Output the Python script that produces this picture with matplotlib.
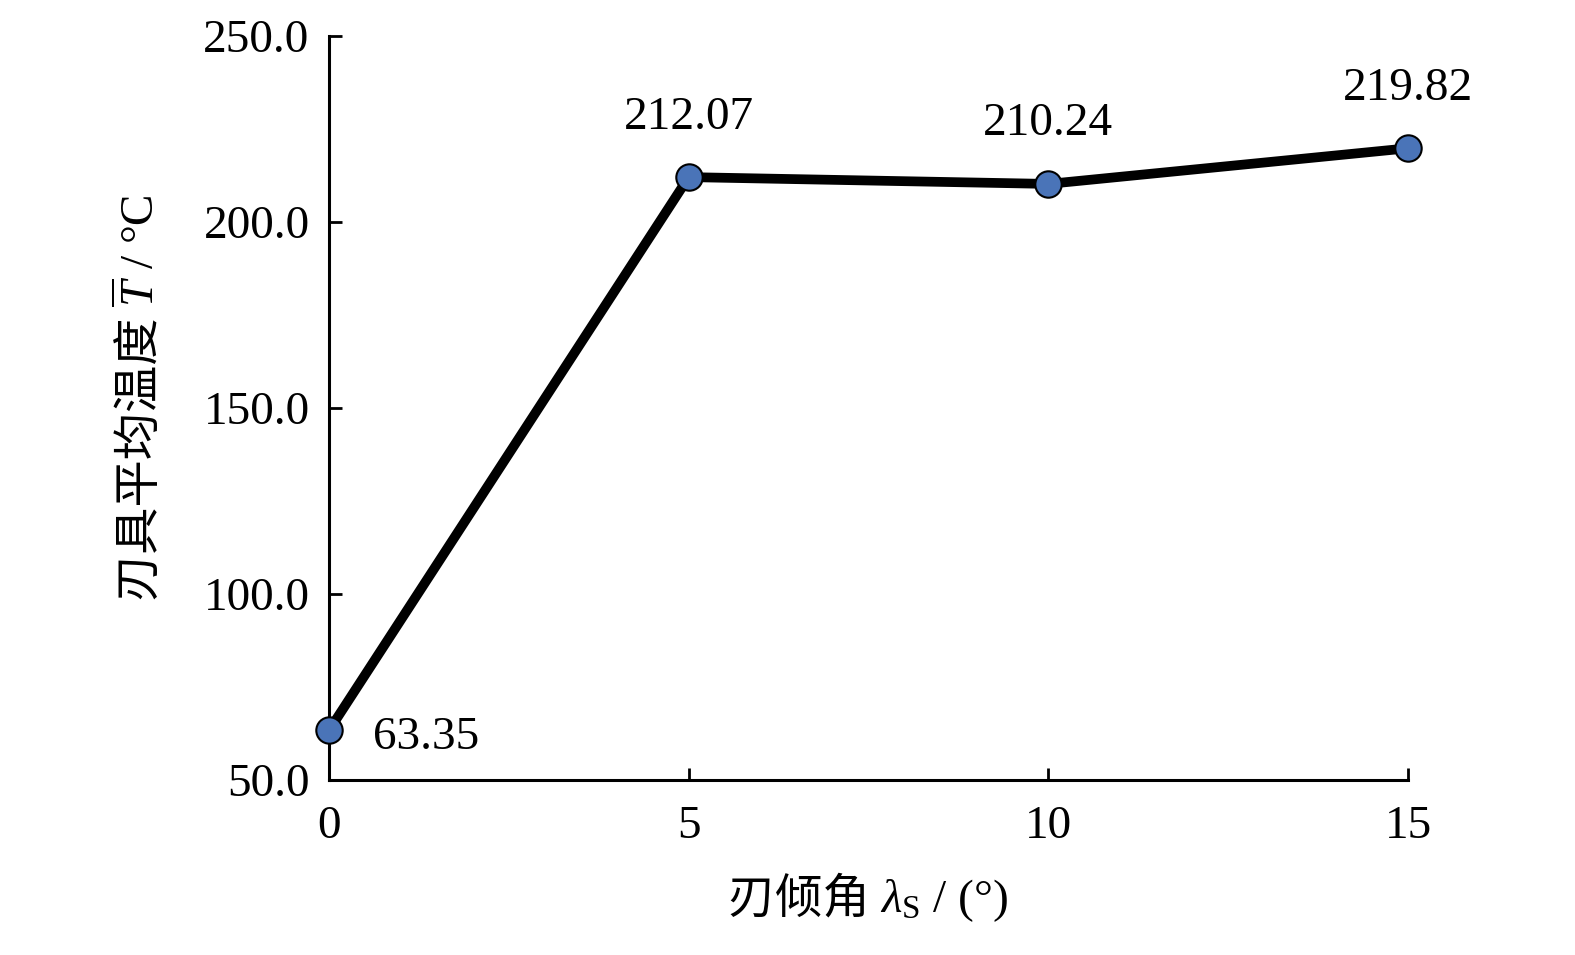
import matplotlib
matplotlib.use('Agg')
import matplotlib.pyplot as plt

# 数据
angle = [0, 5, 10, 15]
temp = [63.35, 212.07, 210.24, 219.82]
x_ticks = [0, 5, 10, 15]
y_ticks = [50, 100, 150, 200, 250]
# 标注偏移 (points)
offsets = [(32, -5), (0, 43), (0, 43), (0, 43)]
aligns = ['left', 'center', 'center', 'center']

xlabel_cn, xlabel_math = '刃倾角 ', r'$\lambda_{\mathrm{S}}$ / (°)'
ylabel_cn, ylabel_math = '刃具平均温度 ', r'$\overline{T}$ / °C'

plt.rcParams['font.family'] = ['Liberation Serif', 'Noto Sans CJK SC']
plt.rcParams['mathtext.fontset'] = 'custom'
plt.rcParams['mathtext.rm'] = 'Liberation Serif'
plt.rcParams['mathtext.it'] = 'Liberation Serif:italic'

fig = plt.figure(figsize=(15.75, 9.55), dpi=100)
ax = fig.add_axes([0.2089, 0.1832, 0.6851, 0.7791])

ax.plot(angle, temp, color='black', lw=7, marker='o', markersize=19,
        markerfacecolor='#4a74b8', markeredgecolor='black', markeredgewidth=1.5,
        clip_on=False, zorder=3)

for x, y, off, ha in zip(angle, temp, offsets, aligns):
    ax.annotate(f'{y:.2f}', (x, y), xytext=off, textcoords='offset points',
                ha=ha, va='center', fontsize=34)

ax.set_xlim(0, 15)
ax.set_ylim(50, 250)
ax.set_xticks(x_ticks)
ax.set_yticks(y_ticks)
ax.set_yticklabels([f'{v:.1f}' for v in y_ticks])
ax.tick_params(direction='in', length=9, width=2, labelsize=34, pad=14)
ax.tick_params(axis='x', pad=18)

for s in ['top', 'right']:
    ax.spines[s].set_visible(False)
for s in ['left', 'bottom']:
    ax.spines[s].set_linewidth(2.2)

# 轴标题: 中文与公式分开绘制, 再按总宽度居中
W, H = 1575, 955
fs = 34
r = fig.canvas.get_renderer()

def two_part(cn, math, cx, cy, rot):
    t1 = fig.text(0, 0, cn, fontsize=fs, family='Noto Sans CJK SC',
                  rotation=rot, rotation_mode='anchor', ha='right', va='baseline')
    t2 = fig.text(0, 0, math, fontsize=fs, rotation=rot, rotation_mode='anchor',
                  ha='left', va='baseline')
    if rot == 0:
        w1 = t1.get_window_extent(r).width
        w2 = t2.get_window_extent(r).width
        x0 = cx - (w1 + w2) / 2 + w1
        for t in (t1, t2):
            t.set_position((x0 / W, cy / H))
    else:
        h1 = t1.get_window_extent(r).height
        h2 = t2.get_window_extent(r).height
        y0 = cy - (h1 + h2) / 2 + h1
        for t in (t1, t2):
            t.set_position((cx / W, y0 / H))

two_part(xlabel_cn, xlabel_math, 868, 955 - 912, 0)
two_part(ylabel_cn, ylabel_math, 155, 955 - 398, 90)

fig.savefig('out.png', dpi=100)
